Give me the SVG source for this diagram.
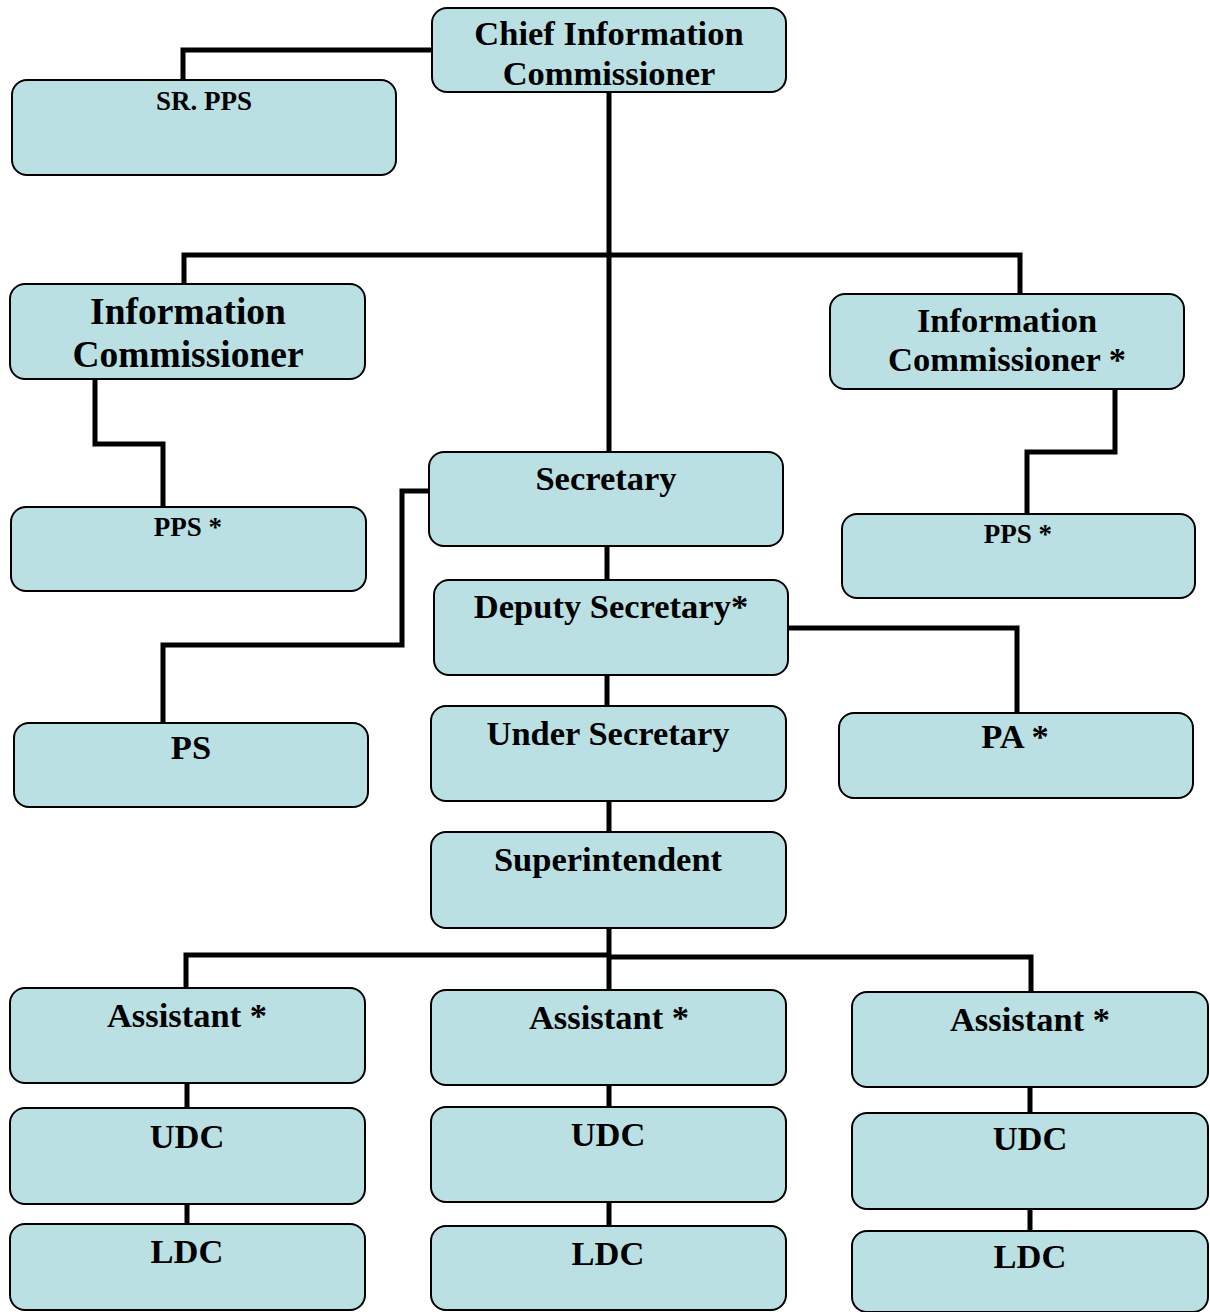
<svg xmlns="http://www.w3.org/2000/svg" width="1210" height="1312" viewBox="0 0 1210 1312">
<style>
.n rect{fill:#BAE0E4;stroke:#000;stroke-width:2}
.n text{font-family:"Liberation Serif","Times New Roman",serif;font-weight:bold;text-anchor:middle;fill:#000}
.c path{fill:none;stroke:#000;stroke-width:5}
.s{font-size:27px}
.m{font-size:34.5px}
.l{font-size:37.5px}
</style>
<rect width="1210" height="1312" fill="#fff"/>
<g class="c">
<path d="M432 50 H183 V80"/>
<path d="M609 92 V452"/>
<path d="M184 284 V255 H1020 V294"/>
<path d="M95 379 V444 H163 V507"/>
<path d="M1115 389 V452 H1027 V514"/>
<path d="M429 491 H402 V645 H163 V723"/>
<path d="M607 546 V580"/>
<path d="M788 628 H1017 V713"/>
<path d="M607 675 V706"/>
<path d="M609 801 V832"/>
<path d="M609 928 V990"/>
<path d="M186 988 V955 H609 M609 957 H1031 V992"/>
<path d="M187 1083 V1108 M187 1204 V1224"/>
<path d="M609 1085 V1107 M609 1202 V1226"/>
<path d="M1030 1087 V1113 M1030 1209 V1231"/>
</g>
<g class="n" id="cic"><rect x="432" y="8" width="354" height="84" rx="15"/><text class="m" x="609" y="45">Chief Information</text><text class="m" x="609" y="85">Commissioner</text></g>
<g class="n" id="srpps"><rect x="12" y="80" width="384" height="95" rx="15"/><text class="s" x="204" y="110">SR. PPS</text></g>
<g class="n" id="ic1"><rect x="10" y="284" width="355" height="95" rx="15"/><text class="l" x="188" y="324">Information</text><text class="l" x="188" y="367">Commissioner</text></g>
<g class="n" id="ic2"><rect x="830" y="294" width="354" height="95" rx="15"/><text class="m" x="1007" y="332">Information</text><text class="m" x="1007" y="371">Commissioner *</text></g>
<g class="n" id="sec"><rect x="429" y="452" width="354" height="94" rx="15"/><text class="m" x="606" y="490">Secretary</text></g>
<g class="n" id="pps1"><rect x="11" y="507" width="355" height="84" rx="15"/><text class="s" x="188" y="536">PPS *</text></g>
<g class="n" id="pps2"><rect x="842" y="514" width="353" height="84" rx="15"/><text class="s" x="1018" y="543">PPS *</text></g>
<g class="n" id="dsec"><rect x="434" y="580" width="354" height="95" rx="15"/><text class="m" x="611" y="618">Deputy Secretary*</text></g>
<g class="n" id="ps"><rect x="14" y="723" width="354" height="84" rx="15"/><text class="m" x="191" y="759">PS</text></g>
<g class="n" id="pa"><rect x="839" y="713" width="354" height="85" rx="15"/><text class="m" x="1015" y="748">PA *</text></g>
<g class="n" id="usec"><rect x="431" y="706" width="355" height="95" rx="15"/><text class="m" x="608" y="745">Under Secretary</text></g>
<g class="n" id="supt"><rect x="431" y="832" width="355" height="96" rx="15"/><text class="m" x="608" y="871">Superintendent</text></g>
<g class="n" id="asst1"><rect x="10" y="988" width="355" height="95" rx="15"/><text class="m" x="187" y="1027">Assistant *</text></g>
<g class="n" id="asst2"><rect x="431" y="990" width="355" height="95" rx="15"/><text class="m" x="609" y="1029">Assistant *</text></g>
<g class="n" id="asst3"><rect x="852" y="992" width="356" height="95" rx="15"/><text class="m" x="1030" y="1031">Assistant *</text></g>
<g class="n" id="udc1"><rect x="10" y="1108" width="355" height="96" rx="15"/><text class="m" x="187" y="1148">UDC</text></g>
<g class="n" id="udc2"><rect x="431" y="1107" width="355" height="95" rx="15"/><text class="m" x="608" y="1146">UDC</text></g>
<g class="n" id="udc3"><rect x="852" y="1113" width="356" height="96" rx="15"/><text class="m" x="1030" y="1150">UDC</text></g>
<g class="n" id="ldc1"><rect x="10" y="1224" width="355" height="86" rx="15"/><text class="m" x="187" y="1263">LDC</text></g>
<g class="n" id="ldc2"><rect x="431" y="1226" width="355" height="84" rx="15"/><text class="m" x="608" y="1265">LDC</text></g>
<g class="n" id="ldc3"><rect x="852" y="1231" width="356" height="81" rx="15"/><text class="m" x="1030" y="1268">LDC</text></g>
</svg>
